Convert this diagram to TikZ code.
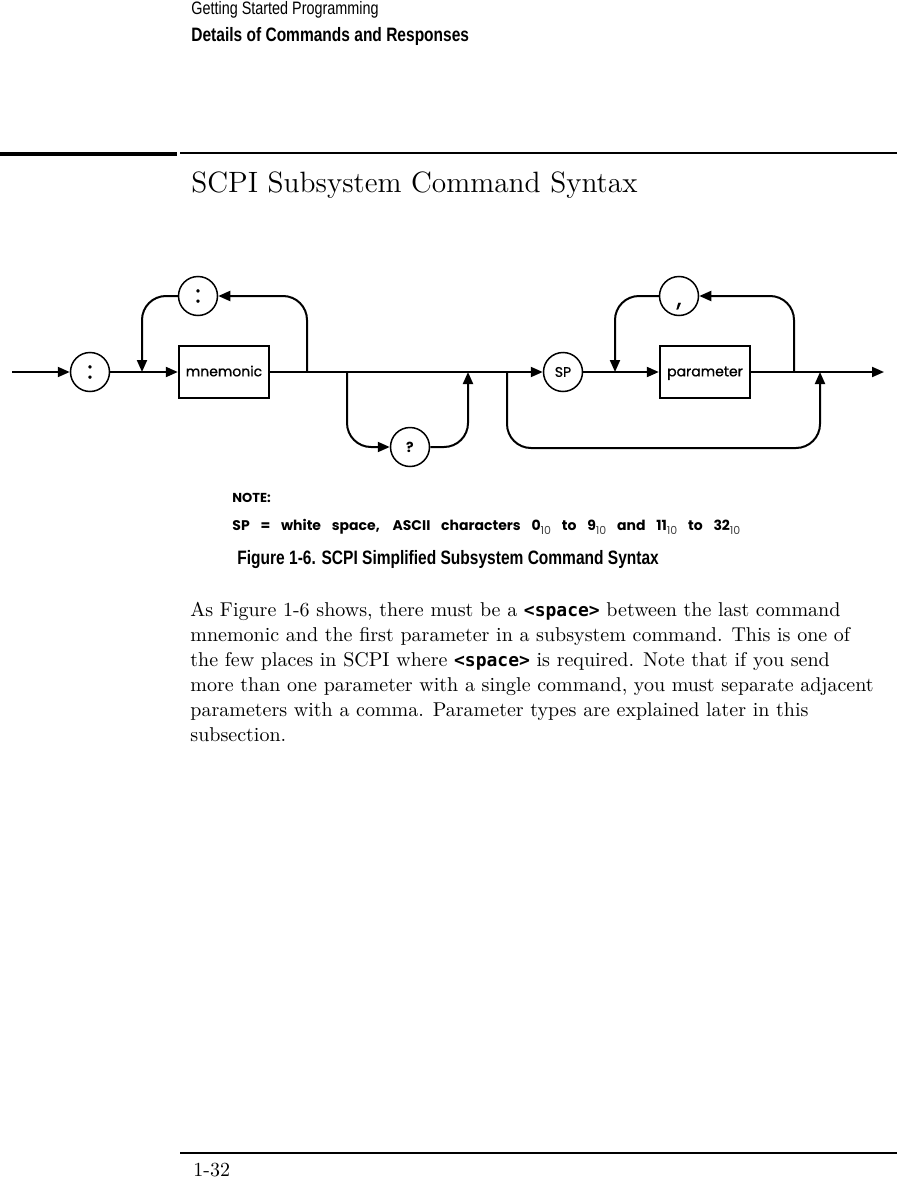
\documentclass[tikz,border=0pt]{standalone}
\usepackage{fontspec}
\setmonofont{DejaVu Sans Mono}
\newfontfamily\diagfont[FakeBold=0.8]{Poppins}
\newfontfamily\notefont{Poppins}
\newfontfamily\condfont[FakeStretch=0.8]{Liberation Sans}
\usetikzlibrary{arrows.meta,positioning,calc}

\newcommand{\tensub}{\raisebox{-2.2pt}{\mdseries\color{black!75}\fontsize{5.5}{6}\selectfont 10}}
\newcommand{\cmdword}[1]{{\ttfamily\bfseries\fontsize{9}{10}\selectfont #1}}

\begin{document}
\begin{tikzpicture}[x=0.5pt, y=-0.5pt,
    term/.style={draw, circle, line width=0.75pt, minimum size=19.5pt, inner sep=0pt, font=\diagfont\fontsize{7}{8}\selectfont},
    punct/.style={term, font=\diagfont\fontsize{12}{12}\selectfont},
    word/.style={draw, line width=1.2pt, minimum width=45pt, minimum height=26pt, inner sep=0pt, text height=1ex, text depth=0pt, font=\diagfont\fontsize{7}{8}\selectfont},
    line/.style={line width=1pt, rounded corners=12pt},
    arr/.style={line, -{Triangle[length=6pt,width=5pt]}},
    txt/.style={anchor=base west, inner sep=0pt}
]
\useasboundingbox (0,0) rectangle (900,1177);

% running head
\node[txt, font=\condfont\fontsize{9}{10}\selectfont] (head) at (191,15) {Getting Started Programming};
\node[txt, font=\condfont\bfseries\fontsize{9.7}{11}\selectfont] (chap) at (191,42) {Details of Commands and Responses};
\draw[line width=2pt] (0,154) -- (177,154);
\draw[line width=0.6pt] (180,153) -- (897,153);
\node[txt, font=\fontsize{14.7}{17}\selectfont] (title) at (191,192) {SCPI Subsystem Command Syntax};

% syntax diagram
\coordinate (in) at (12,372);
\node[punct] (lead) at (90,372) {:};
\node[word] (mnem) at (224,372) {mnemonic};
\node[punct] (sep) at (198,296) {:};
\node[term, font=\notefont\bfseries\fontsize{7}{8}\selectfont] (query) at (410,447) {?};
\node[term] (sp) at (563,372) {SP};
\node[word] (param) at (705,372) {parameter};
\node[punct, text height=0pt, text depth=0pt] (comma) at (679,296) {\raisebox{-5pt}{,}};
\coordinate (out) at (884,372);
\coordinate (jsep) at (142,372);
\coordinate (jmnem) at (307,372);
\coordinate (jq) at (347,372);
\coordinate (jqback) at (468,372);
\coordinate (jskip) at (507,372);
\coordinate (jpar) at (615,372);
\coordinate (jcomma) at (794,372);
\coordinate (jskipback) at (820,372);
\coordinate (skipend) at (820,448);

\draw[arr] (in) -- (lead);
\draw[arr] (lead) -- (mnem);
\draw[arr] (mnem) -- (sp);
\draw[arr] (sp) -- (param);
\draw[arr] (param) -- (out);
\draw[arr] (jmnem) |- (sep);
\draw[arr] (sep) -| (jsep);
\draw[arr] (jq) |- (query);
\draw[arr] (query) -| (jqback);
\draw[arr] (jcomma) |- (comma);
\draw[arr] (comma) -| (jpar);
\draw[arr] (jskip) |- (skipend) -- (jskipback);

% note and caption
\node[txt, font=\notefont\bfseries\fontsize{6.5}{8}\selectfont] (note) at (232,502) {NOTE:};
\node[txt, font=\notefont\bfseries\fontsize{7}{8}\selectfont] (spdef) at (232,530)
    {\makebox[254pt][s]{SP = white space, ASCII characters 0\tensub{} to 9\tensub{} and 11\tensub{} to 32\tensub}};
\node[txt, font=\condfont\bfseries\fontsize{9.7}{11}\selectfont] (caption) at (237,564) {Figure 1-6. SCPI Simplified Subsystem Command Syntax};

% body text
\node[anchor=north west, inner sep=0pt, align=left, font=\fontsize{10}{12.5}\selectfont] (body) at (190,602)
    {As Figure 1-6 shows, there must be a \cmdword{<space>} between the last command\\
     mnemonic and the first parameter in a subsystem command.  This is one of\\
     the few places in SCPI where \cmdword{<space>} is required.  Note that if you send\\
     more than one parameter with a single command, you must separate adjacent\\
     parameters with a comma.  Parameter types are explained later in this\\
     subsection.};

% page foot
\draw[line width=0.6pt] (180,1153) -- (897,1153);
\node[txt, font=\fontsize{10}{12}\selectfont] (folio) at (193,1176) {1-32};
\end{tikzpicture}
\end{document}
